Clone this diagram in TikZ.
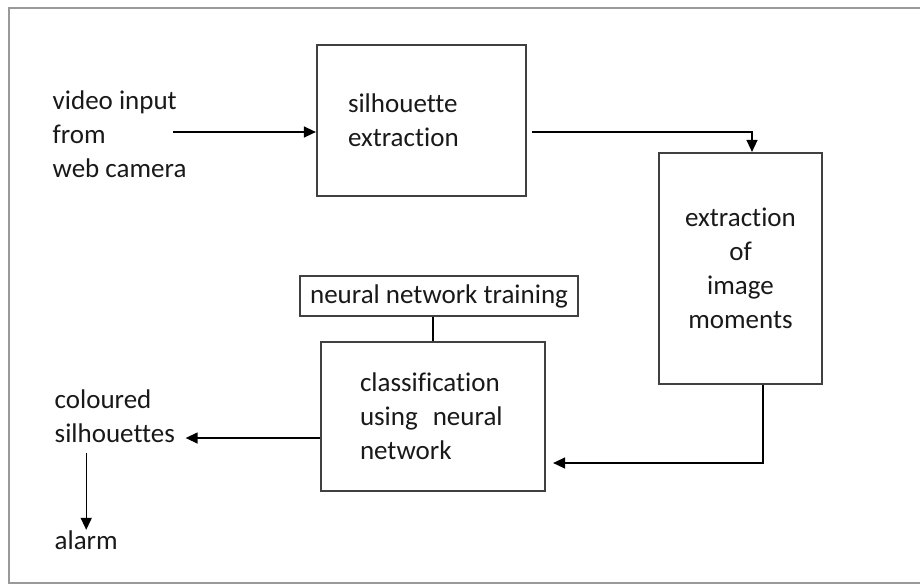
\documentclass[tikz,border=0pt]{standalone}
\usepackage{fontspec}
\setmainfont[Ligatures=NoCommon]{Carlito}
\usetikzlibrary{arrows.meta}
\tikzset{ every node/.style={font=\fontsize{27}{34}\selectfont, text=black!90},
  block/.style={draw=black!75, line width=2.2pt, inner sep=0pt},
  txt/.style={inner sep=0pt, align=left}}

\begin{document}
\begin{tikzpicture}[x=1pt, y=-1pt, line width=1.4pt, >={Triangle[length=12pt,width=11pt]}]
  \useasboundingbox (0,0) rectangle (920,584);
  \draw[black!40, line width=2pt] (921,8) -- (9,8) -- (9,583) -- (921,583);

  \node[block, minimum width=209pt, minimum height=151pt, text width=147pt, inner xsep=31pt, align=left] (sil) at (421.5,120.5) {silhouette\\extraction};
  \node[block, minimum width=163pt, minimum height=231pt, align=center] (mom) at (740.5,268.5) {extraction\\of\\image\\moments};
  \node[block, line width=1.8pt, minimum width=278pt, minimum height=40pt] (train) at (439,296) {neural network training};
  \node[block, minimum width=224pt, minimum height=149pt, text width=146pt, inner xsep=39pt, align=left] (cls) at (433,416.5) {classification\\using\hspace{15pt}neural\\network};

  \node[txt, anchor=west] (in) at (52,134) {video input\\from\\web camera};
  \node[txt, anchor=west] (out) at (54,416) {coloured\\silhouettes};
  \node[txt, anchor=west] (alarm) at (54,540) {alarm};

  \coordinate (a1) at (173,132);
  \coordinate (c1) at (752,132);
  \coordinate (c2) at (763,463);
  \coordinate (c3) at (188,438);

  \draw[->] (a1) -- (a1 -| sil.west);
  \draw[->] ([xshift=5pt]sil.east |- c1) -| (mom.north -| c1);
  \draw[->] (mom.south -| c2) |- ([xshift=7pt]cls.east |- c2);
  \draw (cls.north |- train.south) -- (cls.north);
  \draw[->] (cls.west |- c3) -- ([xshift=10pt]out.east |- c3);
  \draw[->] ([yshift=-10pt]alarm.north |- out.south) -- (alarm.north);
\end{tikzpicture}
\end{document}
